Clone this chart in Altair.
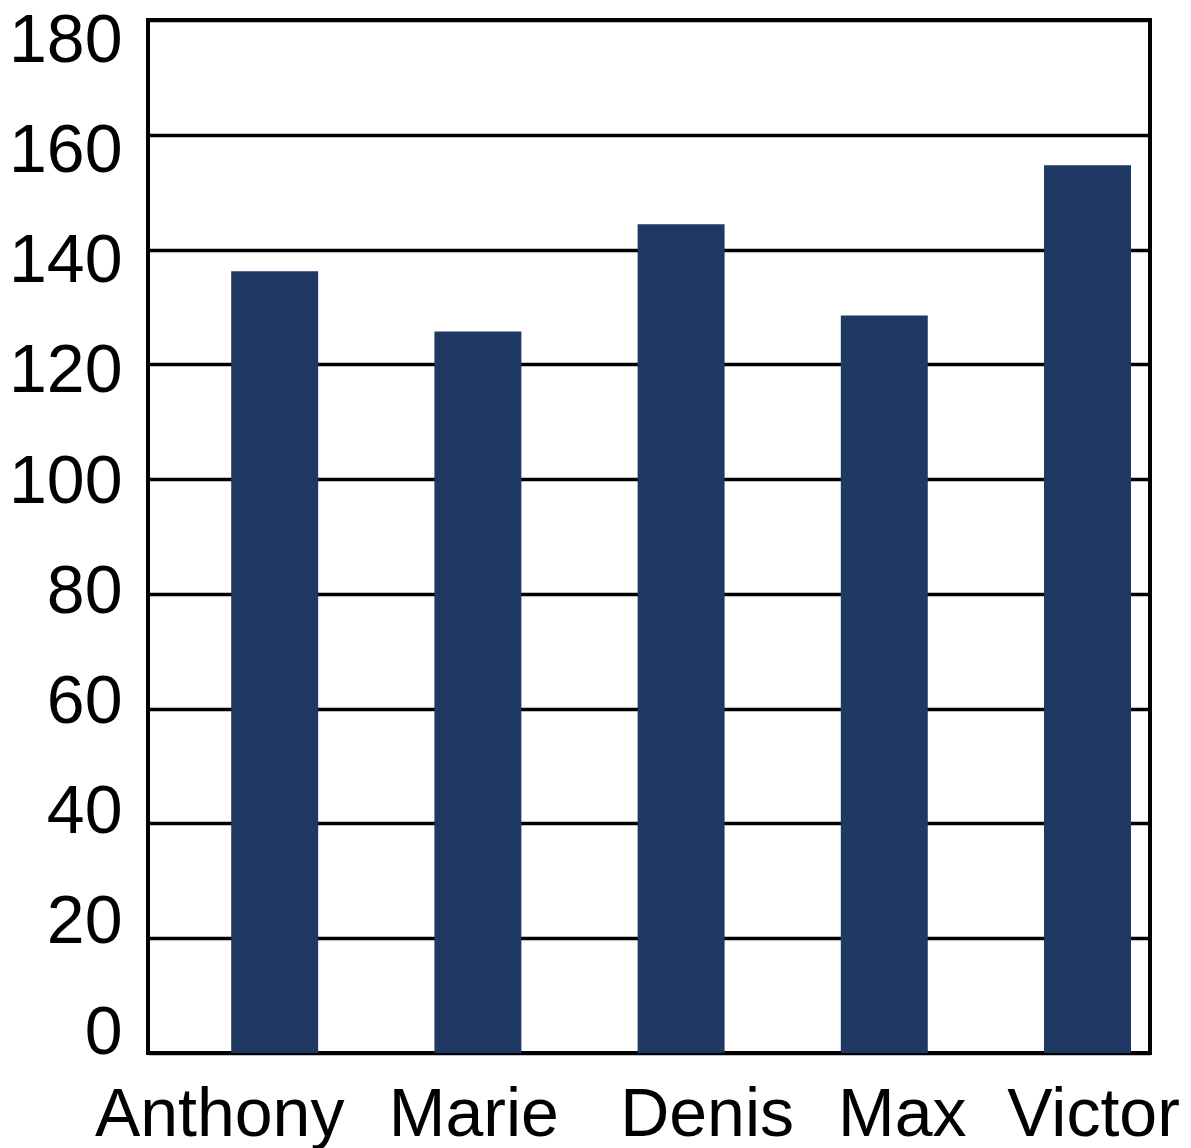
import altair as alt
import pandas as pd

names = ["Anthony", "Marie", "Denis", "Max", "Victor"]
values = [136.2, 125.7, 144.4, 128.5, 154.7]
y_ticks = [0, 20, 40, 60, 80, 100, 120, 140, 160, 180]

df = pd.DataFrame({"name": names, "value": values})

FONT = "Liberation Sans"

# small per-label nudges so the category labels sit as in the original layout
x_label_nudge = (
    "datum.value == 'Anthony' ? -55 : datum.value == 'Marie' ? -4 : "
    "datum.value == 'Denis' ? 26 : datum.value == 'Max' ? 18 : 6"
)

chart = (
    alt.Chart(df)
    .mark_bar(color="#203864")
    .encode(
        x=alt.X(
            "name:N",
            sort=names,
            scale=alt.Scale(paddingInner=0.572, paddingOuter=0.2515, align=0.814),
            axis=alt.Axis(
                title=None,
                labelAngle=0,
                labelFont=FONT,
                labelFontSize=68,
                labelColor="black",
                labelPadding=28,
                labelLimit=600,
                labelOffset=alt.ExprRef(x_label_nudge),
                ticks=False,
                domain=False,
                grid=False,
                labelOverlap=False,
            ),
        ),
        y=alt.Y(
            "value:Q",
            scale=alt.Scale(domain=[0, 180], nice=False, zero=True),
            axis=alt.Axis(
                title=None,
                values=y_ticks,
                labelFont=FONT,
                labelFontSize=68,
                labelColor="black",
                labelPadding=26,
                labelBaseline="alphabetic",
                labelOffset=alt.ExprRef("0.23*datum.value"),
                labelFlush=False,
                labelOverlap=False,
                ticks=False,
                domain=False,
                grid=True,
                gridColor="black",
                gridWidth=3.5,
                gridOpacity=1,
            ),
        ),
    )
    .properties(
        width=1002,
        height=1033,
        autosize=alt.AutoSizeParams(type="none"),
        padding={"left": 148, "top": 20, "right": 41, "bottom": 95},
        background="white",
    )
    .configure_view(stroke="black", strokeWidth=4)
)

chart.save("out.html", embed_options={"renderer": "svg", "actions": False})
